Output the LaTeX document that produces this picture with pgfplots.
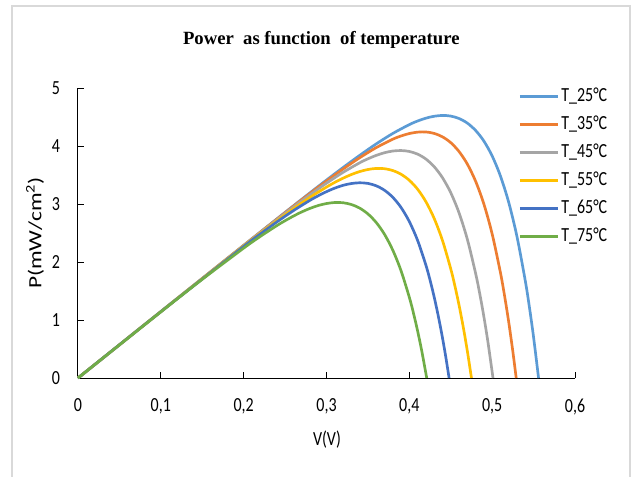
\documentclass[border=0pt]{standalone}
\usepackage{fontspec}
\setmainfont[FakeStretch=0.8]{Carlito}
\newfontfamily\titlefont{Liberation Serif}
\usepackage{graphicx}
\usepackage{pgfplots}
\pgfplotsset{compat=1.18}
\definecolor{c25}{HTML}{5B9BD5}
\definecolor{c35}{HTML}{ED7D31}
\definecolor{c45}{HTML}{A5A5A5}
\definecolor{c55}{HTML}{FFC000}
\definecolor{c65}{HTML}{4472C4}
\definecolor{c75}{HTML}{70AD47}
\definecolor{frame}{HTML}{D9D9D9}
\newfontfamily\ylabfont{Carlito}
\begin{document}
\begin{tikzpicture}
\useasboundingbox (0,0) rectangle (474pt,357pt);
\fill[white] (0,0) rectangle (474pt,357pt);
\draw[line width=1.2pt, color=frame] (9pt,-2pt) -- (9pt,352.5pt) -- (472.5pt,352.5pt) -- (472.5pt,-2pt);
\node[font=\titlefont\bfseries\fontsize{14}{16}\selectfont] at (241pt,327pt) {Power\ \ as function\ \ of temperature};
\begin{axis}[
  at={(58.5pt,73.5pt)}, anchor=south west,
  scale only axis, width=372.75pt, height=217.5pt,
  xmin=0, xmax=0.6, ymin=0, ymax=5,
  xtick={0,0.1,0.2,0.3,0.4,0.5,0.6},
  ytick={0,1,2,3,4,5},
  axis x line=bottom, axis y line=left,
  axis line style={-, line width=0.75pt, black},
  tick align=inside, major tick length=4.5pt,
  tick style={black, line width=0.75pt},
  /pgf/number format/use comma,
  /pgf/number format/assume math mode=true,
  tick label style={font=\fontsize{15}{17}\selectfont},
  yticklabel style={xshift=-10pt},
  xticklabel style={yshift=-12pt},
  xlabel={V(V)},
  ylabel={\scalebox{1}[0.8]{\ylabfont\fontsize{17.5}{20}\selectfont P(mW/cm\textsuperscript{2})}},
  label style={font=\fontsize{15}{17}\selectfont},
  xlabel style={at={(axis description cs:0.501,-0.214)}, anchor=center},
  ylabel style={at={(axis description cs:-0.0865,0.5)}, anchor=center},
  clip=false,
  legend style={at={(axis description cs:0.878,1.03)}, anchor=north west,
    draw=none, fill=none, font=\fontsize{15}{17}\selectfont,
    nodes={inner sep=1.5pt, text height=13pt, text depth=5pt}},
  legend cell align=left,
  legend image code/.code={\draw[#1] (0pt,0pt) -- (28.5pt,0pt);},
  every axis plot/.append style={line width=2pt, smooth},
]
\addplot[c25] coordinates {(0,0) (0.1,1.145) (0.2,2.288) (0.25,2.856) (0.28,3.192) (0.30,3.413) (0.32,3.629) (0.34,3.838) (0.36,4.036) (0.38,4.216) (0.40,4.369) (0.41,4.431) (0.42,4.480) (0.43,4.513) (0.44,4.527) (0.45,4.516) (0.46,4.474) (0.47,4.395) (0.48,4.268) (0.49,4.085) (0.50,3.828) (0.51,3.482) (0.52,3.027) (0.53,2.435) (0.54,1.674) (0.545,1.218) (0.55,0.703) (0.556,0)};
\addlegendentry{T\_25°C}
\addplot[c35] coordinates {(0,0) (0.1,1.145) (0.2,2.286) (0.25,2.850) (0.28,3.182) (0.30,3.396) (0.32,3.603) (0.34,3.797) (0.36,3.972) (0.38,4.117) (0.39,4.173) (0.40,4.215) (0.41,4.239) (0.42,4.242) (0.43,4.217) (0.44,4.158) (0.45,4.058) (0.46,3.905) (0.47,3.689) (0.48,3.393) (0.49,2.999) (0.50,2.483) (0.51,1.816) (0.515,1.415) (0.52,0.963) (0.525,0.453) (0.529,0)};
\addlegendentry{T\_35°C}
\addplot[c45] coordinates {(0,0) (0.1,1.144) (0.2,2.282) (0.25,2.838) (0.28,3.158) (0.30,3.359) (0.32,3.546) (0.34,3.710) (0.35,3.779) (0.36,3.838) (0.37,3.884) (0.38,3.913) (0.39,3.922) (0.40,3.906) (0.41,3.860) (0.42,3.775) (0.43,3.643) (0.44,3.454) (0.45,3.195) (0.46,2.848) (0.47,2.393) (0.48,1.805) (0.485,1.454) (0.49,1.057) (0.495,0.610) (0.501,0)};
\addlegendentry{T\_45°C}
\addplot[c55] coordinates {(0,0) (0.1,1.144) (0.2,2.275) (0.25,2.815) (0.28,3.113) (0.30,3.292) (0.31,3.373) (0.32,3.445) (0.33,3.508) (0.34,3.559) (0.35,3.595) (0.36,3.613) (0.37,3.609) (0.38,3.577) (0.39,3.513) (0.40,3.409) (0.41,3.255) (0.42,3.040) (0.43,2.751) (0.44,2.372) (0.45,1.882) (0.455,1.588) (0.46,1.257) (0.465,0.885) (0.47,0.468) (0.475,0)};
\addlegendentry{T\_55°C}
\addplot[c65] coordinates {(0,0) (0.1,1.143) (0.2,2.267) (0.22,2.482) (0.24,2.690) (0.26,2.885) (0.28,3.063) (0.29,3.142) (0.30,3.213) (0.31,3.274) (0.32,3.322) (0.33,3.353) (0.34,3.366) (0.35,3.355) (0.36,3.314) (0.37,3.237) (0.38,3.116) (0.39,2.940) (0.40,2.697) (0.41,2.372) (0.42,1.946) (0.425,1.688) (0.43,1.396) (0.435,1.065) (0.44,0.694) (0.444,0.363) (0.448,0)};
\addlegendentry{T\_65°C}
\addplot[c75] coordinates {(0,0) (0.1,1.140) (0.15,1.701) (0.2,2.239) (0.22,2.440) (0.24,2.627) (0.25,2.712) (0.26,2.791) (0.27,2.863) (0.28,2.924) (0.29,2.974) (0.30,3.008) (0.31,3.026) (0.32,3.022) (0.33,2.991) (0.34,2.930) (0.35,2.829) (0.36,2.682) (0.37,2.478) (0.38,2.205) (0.39,1.849) (0.40,1.391) (0.405,1.118) (0.41,0.811) (0.415,0.467) (0.421,0)};
\addlegendentry{T\_75°C}
\end{axis}
\end{tikzpicture}
\end{document}
